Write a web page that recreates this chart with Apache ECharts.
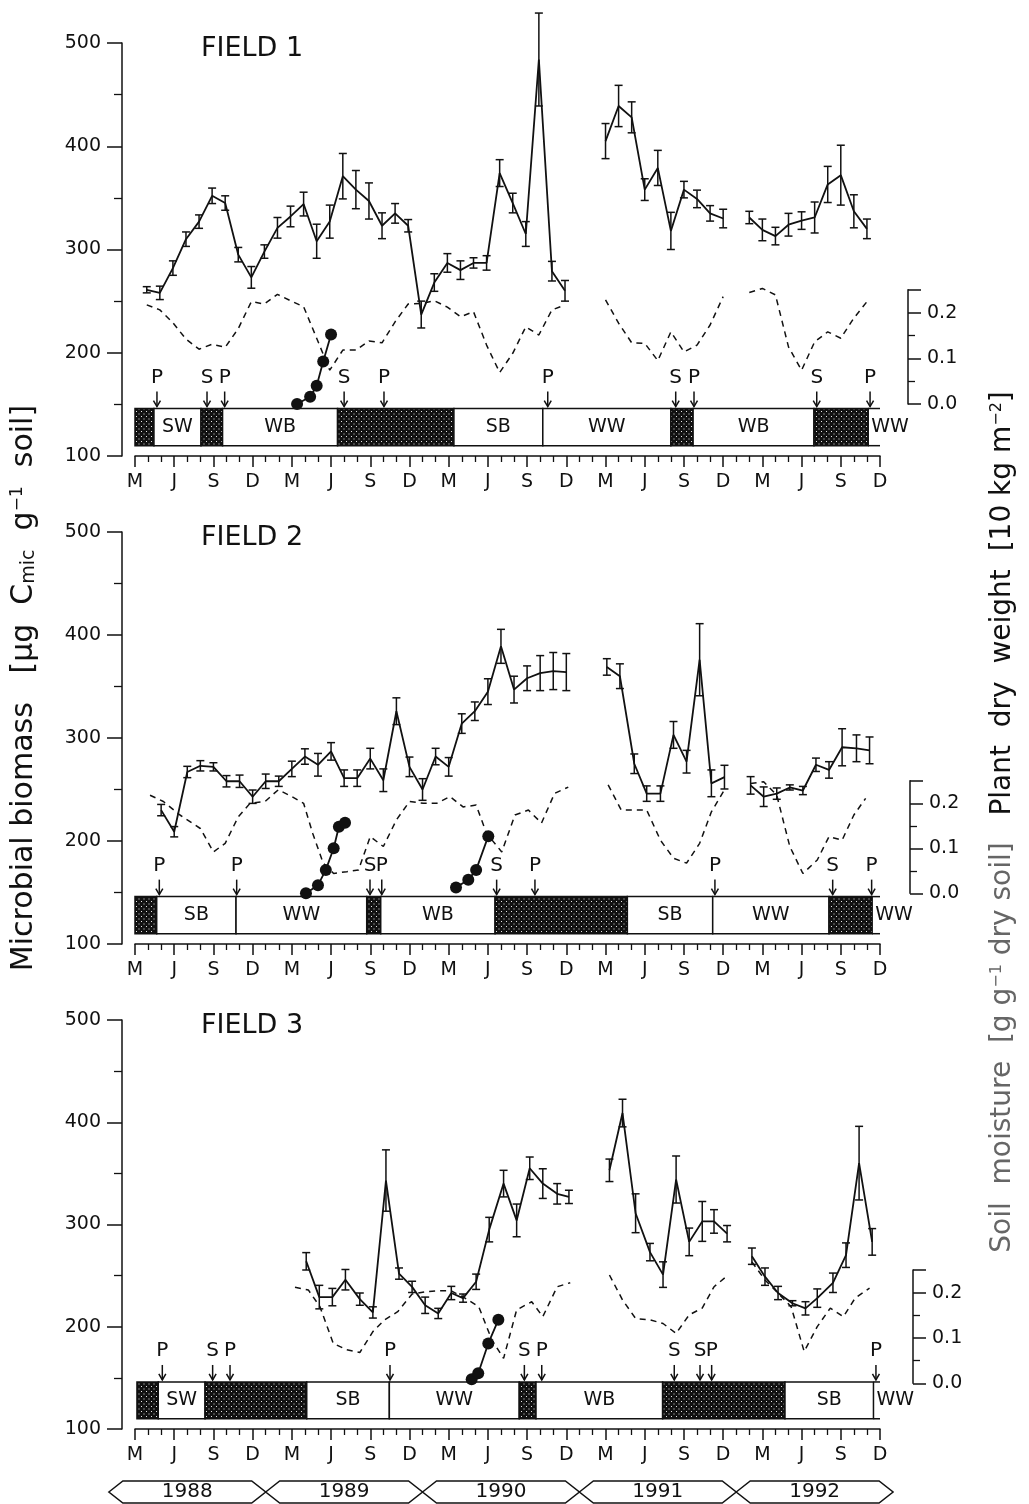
<!DOCTYPE html>
<html>
<head>
<meta charset="utf-8">
<script src="https://cdn.jsdelivr.net/npm/echarts@6/dist/echarts.min.js"></script>
<style>
  html, body { margin: 0; padding: 0; background: #fff; }
  #chart { width: 1029px; height: 1504px; }
</style>
</head>
<body>
<div id="chart"></div>
<script>
// Time is counted in months after the March 1988 tick: 0 = M 1988 ... 57 = D 1992.
const monthLetters = ['M', 'J', 'S', 'D'];
const years = ['1988', '1989', '1990', '1991', '1992'];
const yearStartMonth = [-2, 10, 22, 34, 46];

// ---------- FIELD 1 ----------
const f1Month = [0.9, 1.9, 2.9, 3.9, 4.9, 5.9, 6.9, 7.9, 8.9, 9.9, 10.9, 11.9, 12.9, 13.9, 14.9, 15.9,
  16.9, 17.9, 18.9, 19.9, 20.9, 21.9, 22.9, 23.9, 24.9, 25.9, 26.9, 27.9, 28.9, 29.9, 30.9, 31.9, 32.9,
  null, 36, 37, 38, 39, 40, 41, 42, 43, 44, 45,
  null, 47, 48, 49, 50, 51, 52, 53, 54, 55, 56];
const f1Biomass = [261, 258, 282, 310, 327, 352, 345, 295, 273, 298, 321, 332, 344, 308, 327, 371,
  358, 347, 323, 335, 323, 237, 268, 287, 280, 287, 287, 374, 345, 315, 484, 279, 260,
  null, 405, 439, 428, 358, 379, 318, 358, 349, 335, 330,
  null, 331, 319, 313, 324, 328, 331, 363, 372, 337, 320];
const f1Err = [3, 6.5, 7, 7, 6.5, 7.5, 7, 7, 10.5, 6.5, 10, 10, 11.5, 16.5, 16, 22,
  18.5, 17.5, 12.5, 9.5, 6, 13, 8.5, 9, 9, 5, 7, 13, 9.5, 12, 45, 9.5, 10,
  null, 17, 20, 15, 10.5, 17, 18, 8, 8.5, 7.5, 9,
  null, 6, 10.5, 8.5, 11, 8.5, 15, 17.5, 29, 16, 9.5];
const f1SoilMonth = f1Month;
const f1Soil = [0.217, 0.206, 0.178, 0.142, 0.12, 0.131, 0.124, 0.165, 0.224, 0.219, 0.24, 0.226, 0.213,
  0.144, 0.074, 0.118, 0.118, 0.138, 0.134, 0.18, 0.219, 0.22, 0.226, 0.212, 0.191, 0.202, 0.129, 0.069,
  0.111, 0.169, 0.151, 0.206, 0.217,
  null, 0.228, 0.177, 0.134, 0.133, 0.095, 0.158, 0.114, 0.129, 0.173, 0.235,
  null, 0.244, 0.253, 0.239, 0.125, 0.074, 0.136, 0.158, 0.144, 0.188, 0.224];
const f1PlantMonth = [12.4, 13.4, 13.9, 14.4, 15.0];
const f1Plant = [0, 0.016, 0.04, 0.093, 0.152];
const f1CropEdges = [0, 1.45, 5.05, 6.7, 15.5, 24.4, 31.2, 41.0, 42.7, 51.95, 56.1];
const f1CropLabels = [null, 'SW', null, 'WB', null, 'SB', 'WW', null, 'WB', null, 'WW'];
const f1EventMonth = [1.68, 5.51, 6.86, 16.0, 19.05, 31.58, 41.37, 42.77, 52.16, 56.24];
const f1EventLabel = ['P', 'S', 'P', 'S', 'P', 'P', 'S', 'P', 'S', 'P'];

// ---------- FIELD 2 ----------
const f2Month = [2, 3, 4, 5, 6, 7, 8, 9, 10, 11, 12, 13, 14, 15, 16, 17, 18, 19, 20, 21, 22, 23, 24,
  25, 26, 27, 28, 29, 30, 31, 32, 33,
  null, 36.1, 37.1, 38.2, 39.15, 40.2, 41.2, 42.2, 43.2, 44.1, 45.1,
  null, 47.1, 48.1, 49.1, 50.1, 51.1, 52.1, 53.1, 54.1, 55.2, 56.2];
const f2Biomass = [230, 209, 267, 273, 272, 258, 258, 243, 258, 258, 270, 282, 274, 287, 261, 261,
  280, 259, 326, 272, 250, 282, 272, 314, 326, 345, 389, 347, 358, 363, 365, 364,
  null, 369, 360, 275, 246, 246, 303, 277, 376, 256, 262,
  null, 254, 243, 246, 252, 249, 274, 269, 291, 290, 288];
const f2Err = [5.5, 5, 5.5, 5, 4, 5.5, 6, 6.5, 7, 5, 7.5, 7.5, 11, 8.5, 8, 8,
  10, 11, 13, 9.5, 10.5, 8, 9, 9.5, 9, 12.5, 16.5, 13, 12, 17, 18, 18,
  null, 8, 12, 9.5, 7.5, 7.5, 13, 11, 35, 13, 11.5,
  null, 8.5, 9.5, 5.5, 2.5, 4, 6.5, 8, 18, 13, 13];
const f2SoilMonth = [1.15, 2.17, 3.44, 5.0, 6.0, 6.9, 7.9, 8.8, 9.95, 10.96, 12.0, 12.9, 13.6, 14.4,
  15.2, 16.2, 17.1, 18.0, 19.0, 20.0, 21.0, 22.06, 23.08, 24.1, 25.1, 26.1, 26.9, 28.06, 29.07, 30.1,
  31.1, 32.1, 33.15,
  null, 36.2, 37.2, 38.2, 39.15, 40.2, 41.2, 42.2, 43.2, 44.1, 45.1,
  null, 47.1, 48.1, 49.1, 50.1, 51.1, 52.2, 53.1, 54.1, 55.0, 55.9];
const f2Soil = [0.218, 0.204, 0.174, 0.144, 0.092, 0.111, 0.17, 0.2, 0.204, 0.23, 0.215, 0.2, 0.133,
  0.067, 0.044, 0.048, 0.052, 0.126, 0.104, 0.163, 0.204, 0.2, 0.2, 0.215, 0.192, 0.196, 0.133, 0.092,
  0.174, 0.185, 0.156, 0.222, 0.236,
  null, 0.241, 0.185, 0.185, 0.185, 0.118, 0.078, 0.067, 0.111, 0.181, 0.23,
  null, 0.244, 0.248, 0.218, 0.104, 0.044, 0.074, 0.126, 0.118, 0.174, 0.211];
const f2PlantMonth = [13.08, 14.0, 14.6, 15.2, 15.6, 16.07, null, 24.56, 25.5, 26.1, 27.03];
const f2Plant = [0, 0.018, 0.052, 0.1, 0.148, 0.157, null, 0.013, 0.03, 0.052, 0.127];
const f2CropEdges = [0, 1.66, 7.73, 17.73, 18.8, 27.55, 37.67, 44.2, 53.1, 56.4];
const f2CropLabels = [null, 'SB', 'WW', null, 'WB', null, 'SB', 'WW', null, 'WW'];
const f2EventMonth = [1.86, 7.78, 17.98, 18.88, 27.67, 30.6, 44.37, 53.38, 56.36];
const f2EventLabel = ['P', 'P', 'S', 'P', 'S', 'P', 'P', 'S', 'P'];

// ---------- FIELD 3 ----------
const f3Month = [13.1, 14.1, 15.1, 16.1, 17.2, 18.2, 19.2, 20.2, 21.2, 22.2, 23.2, 24.2, 25.1, 26.1,
  27.1, 28.2, 29.2, 30.2, 31.2, 32.3, 33.2,
  null, 36.3, 37.3, 38.3, 39.4, 40.4, 41.4, 42.4, 43.4, 44.3, 45.3,
  null, 47.2, 48.2, 49.2, 50.3, 51.3, 52.2, 53.4, 54.4, 55.4, 56.4];
const f3Biomass = [264, 229, 229, 246, 227, 214, 343, 252, 239, 221, 213, 233, 228, 244, 295, 340,
  304, 355, 340, 330, 327,
  null, 353, 409, 311, 273, 251, 344, 283, 303, 303, 291,
  null, 269, 249, 233, 223, 218, 228, 243, 270, 360, 283];
const f3Err = [8.5, 11.5, 8.5, 10, 6, 5.5, 30, 5.5, 5.5, 8, 5, 6.5, 4, 7.5, 12, 13, 16, 11, 14.5, 10, 6.5,
  null, 11, 13.5, 19, 8.5, 12.5, 23, 13.5, 19.5, 11.5, 8,
  null, 8, 8.5, 6.5, 2.5, 6.5, 9, 9.5, 12, 36, 13];
const f3SoilMonth = [12.24, 13.26, 14.15, 15.17, 16.2, 17.2, 18.2, 19.1, 20.1, 21.2, 22.2, 23.2, 24.2,
  25.25, 26.3, 27.3, 28.2, 29.2, 30.35, 31.2, 32.3, 33.3,
  null, 36.3, 37.3, 38.3, 39.4, 40.4, 41.4, 42.4, 43.4, 44.3, 45.3,
  null, 47.2, 48.2, 49.2, 50.2, 51.2, 52.2, 53.2, 54.2, 55.1, 56.2];
const f3Soil = [0.212, 0.206, 0.169, 0.088, 0.074, 0.068, 0.114, 0.14, 0.158, 0.197, 0.202, 0.204, 0.204,
  0.188, 0.169, 0.096, 0.055, 0.162, 0.18, 0.147, 0.213, 0.222,
  null, 0.239, 0.184, 0.143, 0.14, 0.132, 0.11, 0.151, 0.166, 0.213, 0.237,
  null, 0.268, 0.228, 0.199, 0.169, 0.07, 0.125, 0.166, 0.147, 0.188, 0.21];
const f3PlantMonth = [25.76, 26.26, 27.03, 27.8];
const f3Plant = [0.009, 0.022, 0.088, 0.14];
const f3CropEdges = [0.15, 1.78, 5.36, 13.14, 19.46, 29.4, 30.68, 40.37, 49.73, 56.5];
const f3CropLabels = [null, 'SW', null, 'SB', 'WW', null, 'WB', null, 'SB', 'WW'];
const f3EventMonth = [2.09, 5.94, 7.27, 19.51, 29.79, 31.12, 41.26, 43.23, 44.12, 56.69];
const f3EventLabel = ['P', 'S', 'P', 'P', 'S', 'P', 'S', 'S', 'P', 'P'];

// ---------- layout and style ----------
const FONT = 'DejaVu Sans';
const INK = '#111';
const X_MAX = 57;
const BAR_TOP = 146, BAR_BOTTOM = 110;      // crop band, in biomass units
const GRID_LEFT = 135, GRID_WIDTH = 745;
const panels = [
  { title: 'FIELD 1', titleTop: 30,   top: 43,   bottom: 456,  smTop: 289.8,  smZero: 404,    smOffset: 28 },
  { title: 'FIELD 2', titleTop: 519,  top: 532,  bottom: 944,  smTop: 780.8,  smZero: 893.3,  smOffset: 30 },
  { title: 'FIELD 3', titleTop: 1007, top: 1020, bottom: 1429, smTop: 1270,   smZero: 1383.3, smOffset: 33 }
];
const fields = [
  { month: f1Month, biomass: f1Biomass, err: f1Err, soilMonth: f1SoilMonth, soil: f1Soil,
    plantMonth: f1PlantMonth, plant: f1Plant, edges: f1CropEdges, crops: f1CropLabels,
    eventMonth: f1EventMonth, events: f1EventLabel },
  { month: f2Month, biomass: f2Biomass, err: f2Err, soilMonth: f2SoilMonth, soil: f2Soil,
    plantMonth: f2PlantMonth, plant: f2Plant, edges: f2CropEdges, crops: f2CropLabels,
    eventMonth: f2EventMonth, events: f2EventLabel },
  { month: f3Month, biomass: f3Biomass, err: f3Err, soilMonth: f3SoilMonth, soil: f3Soil,
    plantMonth: f3PlantMonth, plant: f3Plant, edges: f3CropEdges, crops: f3CropLabels,
    eventMonth: f3EventMonth, events: f3EventLabel }
];

// stippled fill for the shaded crop-band periods
const dots = document.createElement('canvas');
dots.width = 5; dots.height = 5;
(function () {
  const c = dots.getContext('2d');
  c.fillStyle = INK; c.fillRect(0, 0, 5, 5);
  c.fillStyle = '#e6e6e6';
  c.fillRect(1, 1, 1, 1);
  c.fillRect(3.5, 3.5, 1, 1);
})();
const stipple = { image: dots, repeat: 'repeat' };

const pair = (xs, ys) => xs.map((x, i) => (x == null || ys[i] == null) ? ['-', '-'] : [x, ys[i]]);

const grid = [], xAxis = [], yAxis = [], series = [], title = [];

panels.forEach((p, k) => {
  const f = fields[k];
  // three grids per panel: biomass, soil-moisture scale, and a twin that carries its half-step ticks
  const gMain = 3 * k, gSm = 3 * k + 1, gSmMinor = 3 * k + 2;
  const yMain = 3 * k, ySm = 3 * k + 1;

  title.push({ text: p.title, left: 196, top: p.titleTop,
    textStyle: { fontFamily: FONT, fontSize: 27, fontWeight: 'normal', color: INK } });

  grid.push({ left: GRID_LEFT, width: GRID_WIDTH, top: p.top, height: p.bottom - p.top });
  grid.push({ left: GRID_LEFT, width: GRID_WIDTH, top: p.smTop, height: p.smZero - p.smTop });
  grid.push({ left: GRID_LEFT, width: GRID_WIDTH, top: p.smTop, height: p.smZero - p.smTop });

  xAxis.push({
    gridIndex: gMain, type: 'value', min: 0, max: X_MAX, interval: 3,
    axisLine: { onZero: false, lineStyle: { color: INK, width: 1.5 } },
    axisTick: { length: 11, lineStyle: { color: INK, width: 1.5 } },
    minorTick: { show: true, splitNumber: 3, length: 6, lineStyle: { color: INK, width: 1.3 } },
    splitLine: { show: false }, minorSplitLine: { show: false },
    axisLabel: { margin: 17, color: INK, fontFamily: FONT, fontSize: 19,
      formatter: v => monthLetters[Math.round(v / 3) % 4] }
  });
  xAxis.push({ gridIndex: gSm, type: 'value', min: 0, max: X_MAX, show: false });
  xAxis.push({ gridIndex: gSmMinor, type: 'value', min: 0, max: X_MAX, show: false });

  yAxis.push({
    gridIndex: gMain, type: 'value', min: 100, max: 500, interval: 100, offset: 13,
    axisLine: { show: true, onZero: false, lineStyle: { color: INK, width: 1.5 } },
    axisTick: { show: true, length: 15, lineStyle: { color: INK, width: 1.5 } },
    minorTick: { show: true, splitNumber: 2, length: 8, lineStyle: { color: INK, width: 1.3 } },
    splitLine: { show: false }, minorSplitLine: { show: false },
    axisLabel: { margin: 21, color: INK, fontFamily: FONT, fontSize: 19 }
  });
  yAxis.push({
    gridIndex: gSm, type: 'value', position: 'right', offset: p.smOffset, min: 0, max: 0.25, interval: 0.05,
    axisLine: { show: true, onZero: false, lineStyle: { color: INK, width: 1.5 } },
    axisTick: { show: true, length: 13, customValues: [0, 0.1, 0.2, 0.25], lineStyle: { color: INK, width: 1.5 } },
    splitLine: { show: false },
    axisLabel: { margin: 19, color: INK, fontFamily: FONT, fontSize: 19, customValues: [0, 0.1, 0.2],
      formatter: v => v.toFixed(1) }
  });
  yAxis.push({
    gridIndex: gSmMinor, type: 'value', position: 'right', offset: p.smOffset, min: 0, max: 0.25, interval: 0.05,
    axisLine: { show: false, onZero: false },
    axisTick: { show: true, length: 7, customValues: [0.05, 0.15], lineStyle: { color: INK, width: 1.3 } },
    splitLine: { show: false }, axisLabel: { show: false }
  });

  // soil moisture (dashed)
  series.push({
    type: 'line', xAxisIndex: gSm, yAxisIndex: ySm, data: pair(f.soilMonth, f.soil),
    showSymbol: false, clip: false, z: 2, silent: true,
    lineStyle: { color: INK, width: 1.5, type: [6, 5] }
  });
  // plant dry weight (filled dots)
  series.push({
    type: 'line', xAxisIndex: gSm, yAxisIndex: ySm, data: pair(f.plantMonth, f.plant),
    symbol: 'circle', symbolSize: 12, clip: false, z: 6, silent: true,
    itemStyle: { color: INK }, lineStyle: { color: INK, width: 1.8 }
  });
  // microbial biomass line
  series.push({
    type: 'line', xAxisIndex: gMain, yAxisIndex: yMain, data: pair(f.month, f.biomass),
    showSymbol: false, clip: false, z: 4, silent: true,
    lineStyle: { color: INK, width: 1.8 }
  });
  // error bars
  const errData = [];
  f.month.forEach((m, i) => { if (m != null) errData.push([m, f.biomass[i], f.err[i]]); });
  series.push({
    type: 'custom', xAxisIndex: gMain, yAxisIndex: yMain, data: errData, encode: { x: 0, y: 1 },
    z: 4, silent: true,
    renderItem(params, api) {
      const t = api.value(0), v = api.value(1), e = api.value(2);
      const a = api.coord([t, v + e]), b = api.coord([t, v - e]);
      const st = { stroke: INK, lineWidth: 1.5 };
      return { type: 'group', children: [
        { type: 'line', shape: { x1: a[0], y1: a[1], x2: b[0], y2: b[1] }, style: st },
        { type: 'line', shape: { x1: a[0] - 4, y1: a[1], x2: a[0] + 4, y2: a[1] }, style: st },
        { type: 'line', shape: { x1: b[0] - 4, y1: b[1], x2: b[0] + 4, y2: b[1] }, style: st }
      ] };
    }
  });
  // crop band
  const cropData = f.crops.map((c, i) => [f.edges[i], i + 1 < f.edges.length ? f.edges[i + 1] : X_MAX]);
  series.push({
    type: 'custom', xAxisIndex: gMain, yAxisIndex: yMain, data: cropData, encode: { x: [0, 1] },
    z: 3, silent: true,
    renderItem(params, api) {
      const i = params.dataIndex, lab = f.crops[i];
      const a = api.coord([api.value(0), BAR_TOP]), b = api.coord([api.value(1), BAR_BOTTOM]);
      const st = { stroke: INK, lineWidth: 1.5 };
      const txt = (x, align) => ({ type: 'text', x: x, y: (a[1] + b[1]) / 2,
        style: { text: lab, fill: INK, font: '19px "' + FONT + '"', align: align, verticalAlign: 'middle' } });
      if (i === f.crops.length - 1) {
        return { type: 'group', children: [
          { type: 'line', shape: { x1: a[0], y1: a[1], x2: b[0], y2: a[1] }, style: st },
          { type: 'line', shape: { x1: a[0], y1: b[1], x2: b[0], y2: b[1] }, style: st },
          txt(a[0] + 3, 'left')
        ] };
      }
      const rect = { x: a[0], y: a[1], width: b[0] - a[0], height: b[1] - a[1] };
      if (lab == null) {
        return { type: 'rect', shape: rect, style: { fill: stipple, stroke: INK, lineWidth: 1.5 } };
      }
      return { type: 'group', children: [
        { type: 'rect', shape: rect, style: { fill: '#fff', stroke: INK, lineWidth: 1.5 } },
        txt((a[0] + b[0]) / 2, 'center')
      ] };
    }
  });
  // sowing / ploughing arrows
  series.push({
    type: 'custom', xAxisIndex: gMain, yAxisIndex: yMain,
    data: f.eventMonth.map(m => [m, BAR_TOP]), encode: { x: 0, y: 1 }, z: 5, silent: true,
    renderItem(params, api) {
      const c = api.coord([api.value(0), BAR_TOP]);
      const x = c[0], tip = c[1] - 2;
      const st = { stroke: INK, lineWidth: 1.5, fill: null };
      return { type: 'group', children: [
        { type: 'text', x: x, y: tip - 29,
          style: { text: f.events[params.dataIndex], fill: INK, font: '20px "' + FONT + '"',
            align: 'center', verticalAlign: 'middle' } },
        { type: 'line', shape: { x1: x, y1: tip - 15, x2: x, y2: tip }, style: st },
        { type: 'polyline', shape: { points: [[x - 3.5, tip - 6], [x, tip], [x + 3.5, tip - 6]] }, style: st }
      ] };
    }
  });
});

// calendar-year ribbons under the lowest panel
series.push({
  type: 'custom', xAxisIndex: 6, yAxisIndex: 6,
  data: yearStartMonth.map(s => [s, s + 12]), encode: { x: [0, 1] }, z: 5, silent: true,
  renderItem(params, api) {
    const a = api.coord([api.value(0), 100]), b = api.coord([api.value(1), 100]);
    const mid = a[1] + 63, h = 11, s = 14;
    return { type: 'group', children: [
      { type: 'polygon',
        shape: { points: [[a[0], mid], [a[0] + s, mid - h], [b[0] - s, mid - h], [b[0], mid],
          [b[0] - s, mid + h], [a[0] + s, mid + h]] },
        style: { fill: null, stroke: INK, lineWidth: 1.5 } },
      { type: 'text', x: (a[0] + b[0]) / 2, y: mid,
        style: { text: years[params.dataIndex], fill: INK, font: '20px "' + FONT + '"',
          align: 'center', verticalAlign: 'middle' } }
    ] };
  }
});

const chart = echarts.init(document.getElementById('chart'), null, { renderer: 'canvas' });
chart.setOption({
  animation: false,
  backgroundColor: '#fff',
  title, grid, xAxis, yAxis, series,
  graphic: [
    { type: 'text', x: 24, y: 688, rotation: Math.PI / 2,
      style: { text: 'Microbial biomass   [\u03bcg  C{sub|mic}  g{sup|\u22121}  soil]',
        fill: INK, font: '30px "' + FONT + '"', align: 'center', verticalAlign: 'middle',
        rich: { sub: { fontSize: 19, fontFamily: FONT, verticalAlign: 'bottom', fill: INK },
                sup: { fontSize: 17, fontFamily: FONT, verticalAlign: 'top', fill: INK } } } },
    { type: 'text', x: 1003, y: 822, rotation: Math.PI / 2,
      style: { text: '{g|Soil  moisture  [g g}{gs|\u22121}{g| dry soil]}   Plant  dry  weight  [10 kg m{sup|\u22122}]',
        fill: INK, font: '28px "' + FONT + '"', align: 'center', verticalAlign: 'middle',
        rich: { g: { fontSize: 28, fontFamily: FONT, fill: '#666' },
                gs: { fontSize: 16, fontFamily: FONT, fill: '#666', verticalAlign: 'top' },
                sup: { fontSize: 16, fontFamily: FONT, verticalAlign: 'top', fill: INK } } } }
  ]
});
</script>
</body>
</html>
